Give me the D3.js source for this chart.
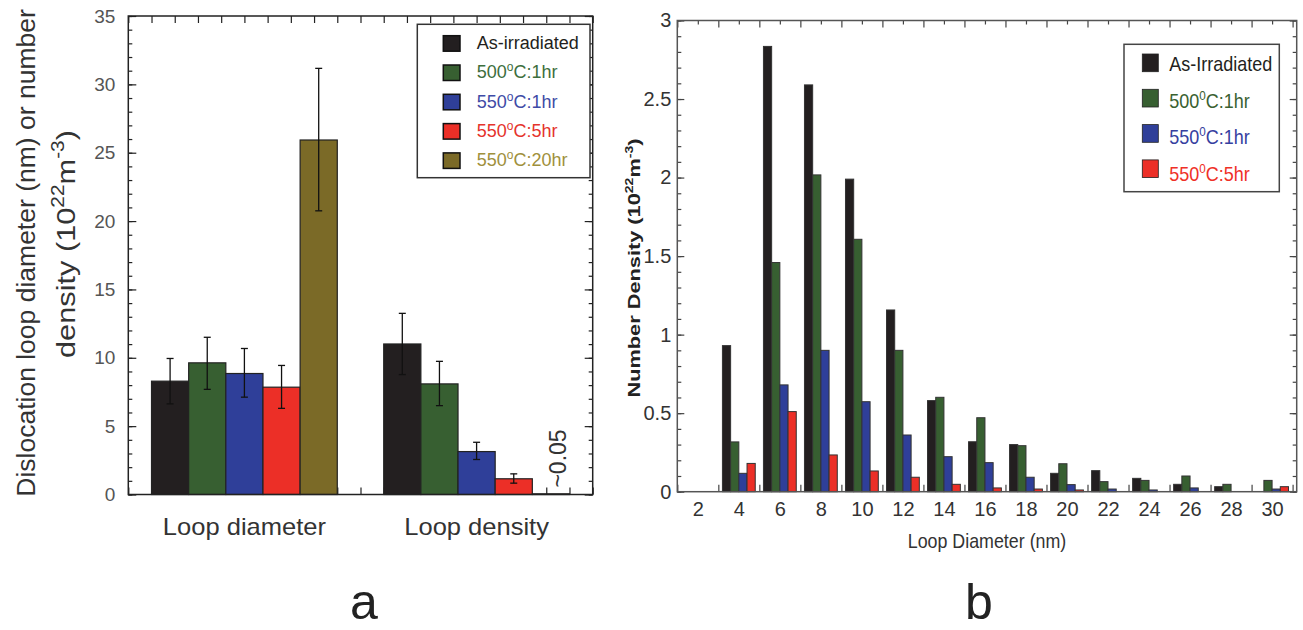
<!DOCTYPE html>
<html>
<head>
<meta charset="utf-8">
<script src="https://cdn.jsdelivr.net/npm/d3@7"></script>
<style>
  body { margin: 0; background: #fff; }
  svg { display: block; }
  text { font-family: "Liberation Sans", Arial, sans-serif; }
</style>
</head>
<body>
<svg id="chart" width="1303" height="630"></svg>
<script>
// ---------- data, panel a ----------
const groupsA = ["Loop diameter", "Loop density"];
const seriesA = ["As-irradiated", "500^{o}C:1hr", "550^{o}C:1hr", "550^{o}C:5hr", "550^{o}C:20hr"];
const diamVals = [8.29, 9.63, 8.85, 7.85, 25.93];
const diamLow  = [6.63, 7.69, 7.12, 6.30, 20.75];
const diamHigh = [9.95, 11.5, 10.68, 9.44, 31.17];
const densVals = [11.01, 8.09, 3.14, 1.15, 0.05];
const densLow  = [8.77, 6.50, 2.56, 0.83, null];
const densHigh = [13.25, 9.74, 3.82, 1.51, null];
const yTicksA = [0, 5, 10, 15, 20, 25, 30, 35];

// ---------- data, panel b ----------
const diameters = [2, 4, 6, 8, 10, 12, 14, 16, 18, 20, 22, 24, 26, 28, 30];
const seriesB = ["As-Irradiated", "500^{0}C:1hr", "550^{0}C:1hr", "550^{0}C:5hr"];
const asIrr  = [0, 0.93, 2.835, 2.59, 1.99, 1.157, 0.58, 0.318, 0.30, 0.117, 0.134, 0.085, 0.047, 0.032, 0];
const c500h1 = [0, 0.317, 1.459, 2.017, 1.607, 0.90, 0.601, 0.471, 0.293, 0.178, 0.064, 0.072, 0.10, 0.047, 0.072];
const c550h1 = [0, 0.117, 0.68, 0.90, 0.573, 0.361, 0.223, 0.185, 0.092, 0.045, 0.017, 0.011, 0.024, 0, 0.017];
const c550h5 = [0, 0.18, 0.51, 0.234, 0.132, 0.092, 0.047, 0.024, 0.017, 0.011, 0, 0, 0, 0, 0.032];
const yTicksB = [0, 0.5, 1, 1.5, 2, 2.5, 3];

const barColors = ["#231f20", "#375f31", "#2f3f99", "#ec2f27", "#7b6a27"];
const textColorsA = ["#231f20", "#3d6e3d", "#3e4ba6", "#e5332c", "#a0903c"];
const textColorsB = ["#231f20", "#3a6131", "#3640a0", "#ef3027"];

const svg = d3.select("#chart");

// text with ^{...} superscripts
function richText(sel, str, supSize, shift) {
  const parts = str.split(/(\^\{[^}]*\})/).filter(p => p !== "");
  let raised = false;
  parts.forEach(p => {
    const m = p.match(/^\^\{(.*)\}$/);
    if (m) {
      sel.append("tspan").attr("dy", -shift).attr("font-size", supSize).text(m[1]);
      raised = true;
    } else {
      sel.append("tspan").attr("dy", raised ? shift : 0).text(p);
      raised = false;
    }
  });
  return sel;
}

function styleAxis(g, color) {
  g.select(".domain").remove();
  g.selectAll(".tick line").attr("stroke", color).attr("stroke-width", 1.2);
  return g;
}

// ================= panel a =================
const xL = d3.scaleLinear().domain([0, 20]).range([128.3, 592.7]);
const yL = d3.scaleLinear().domain([0, 35]).range([494.5, 16]);
const groupCenterA = [5, 15];
const barW = 1.6;
const gA = svg.append("g");

// ticks
styleAxis(gA.append("g").attr("transform", `translate(${xL(0)},0)`)
  .call(d3.axisLeft(yL).tickValues(d3.range(0, 36, 1)).tickSize(-4).tickFormat("")), "#222");
const yAxA = gA.append("g").attr("transform", `translate(${xL(0)},0)`)
  .call(d3.axisLeft(yL).tickValues(yTicksA).tickSize(-8).tickPadding(13));
styleAxis(yAxA, "#222");
yAxA.selectAll("text").attr("font-size", 19).attr("fill", "#555")
  .attr("font-family", "Liberation Sans, Arial, sans-serif");
styleAxis(gA.append("g").attr("transform", `translate(${xL(20)},0)`)
  .call(d3.axisRight(yL).tickValues(d3.range(0, 36, 1)).tickSize(-4).tickFormat("")), "#222");
styleAxis(gA.append("g").attr("transform", `translate(${xL(20)},0)`)
  .call(d3.axisRight(yL).tickValues(yTicksA).tickSize(-8).tickFormat("")), "#222");
styleAxis(gA.append("g").attr("transform", `translate(0,${yL(35)})`)
  .call(d3.axisTop(xL).tickValues(d3.range(0, 21)).tickSize(-7).tickFormat("")), "#222");
styleAxis(gA.append("g").attr("transform", `translate(0,${yL(0)})`)
  .call(d3.axisBottom(xL).tickValues(d3.range(0, 21)).tickSize(-7).tickFormat("")), "#222");

// bars + error bars
[[diamVals, diamLow, diamHigh], [densVals, densLow, densHigh]].forEach((set, gi) => {
  const [vals, lo, hi] = set;
  vals.forEach((v, i) => {
    const x0 = groupCenterA[gi] - 2.5 * barW + i * barW;
    gA.append("rect")
      .attr("x", xL(x0)).attr("width", xL(x0 + barW) - xL(x0))
      .attr("y", yL(v)).attr("height", yL(0) - yL(v))
      .attr("fill", barColors[i]).attr("stroke", "#222").attr("stroke-width", 1.2);
    if (lo[i] !== null) {
      const cx = xL(x0 + barW / 2);
      gA.append("line").attr("x1", cx).attr("x2", cx).attr("y1", yL(lo[i])).attr("y2", yL(hi[i]))
        .attr("stroke", "#111").attr("stroke-width", 1.3);
      [lo[i], hi[i]].forEach(e => {
        gA.append("line").attr("x1", cx - 3.5).attr("x2", cx + 3.5).attr("y1", yL(e)).attr("y2", yL(e))
          .attr("stroke", "#111").attr("stroke-width", 1.3);
      });
    }
  });
});

// frame
gA.append("rect").attr("x", xL(0)).attr("y", yL(35))
  .attr("width", xL(20) - xL(0)).attr("height", yL(0) - yL(35))
  .attr("fill", "none").attr("stroke", "#222").attr("stroke-width", 1.5);

// "~0.05" note
const tinyX = xL(groupCenterA[1] + 1.5 * barW + barW / 2);
gA.append("text")
  .attr("transform", `translate(${tinyX + 15},${yL(0) - 36}) rotate(-90)`)
  .attr("text-anchor", "middle").attr("font-size", 23).attr("fill", "#333")
  .text("~0.05");

// category labels
groupsA.forEach((name, gi) => {
  gA.append("g").attr("transform", `translate(${xL(groupCenterA[gi])},535) scale(1.11,1)`)
    .append("text").attr("text-anchor", "middle").attr("font-size", 23).attr("fill", "#333")
    .text(name);
});

// y label (two lines)
gA.append("text")
  .attr("transform", "translate(35,253) rotate(-90)")
  .attr("text-anchor", "middle").attr("font-size", 26.5).attr("fill", "#333")
  .text("Dislocation loop diameter (nm) or number");
richText(gA.append("g").attr("transform", "translate(75,244) rotate(-90) scale(1.16,1)")
  .append("text").attr("text-anchor", "middle").attr("font-size", 26.5).attr("fill", "#333"),
  "density (10^{22}m^{-3})", 18, 11);

// legend
const legA = gA.append("g");
legA.append("rect").attr("x", 417.3).attr("y", 24.3).attr("width", 172.7).attr("height", 153.4)
  .attr("fill", "#fff").attr("stroke", "#333").attr("stroke-width", 1.5);
seriesA.forEach((s, i) => {
  legA.append("rect").attr("x", 443.3).attr("y", 35.7 + i * 29.3).attr("width", 16.7).attr("height", 15.5)
    .attr("fill", barColors[i]).attr("stroke", "#111").attr("stroke-width", 1.5);
  richText(legA.append("text").attr("x", 476.7).attr("y", 49 + i * 29.3)
    .attr("font-size", 18).attr("fill", textColorsA[i]), s, 12, 7);
});

// panel letter
svg.append("text").attr("x", 364).attr("y", 619).attr("text-anchor", "middle")
  .attr("font-size", 50).attr("fill", "#222")
  .text("a");

// ================= panel b =================
const xR = d3.scaleLinear().domain([1, 31.2]).range([677.3, 1296.7]);
const yR = d3.scaleLinear().domain([0, 3]).range([491.7, 20.5]);
const seriesValsB = [asIrr, c500h1, c550h1, c550h5];
const barWB = 0.4;
const gB = svg.append("g");

const odd = d3.range(1, 32, 2);
const even = d3.range(2, 31, 2);
styleAxis(gB.append("g").attr("transform", `translate(${xR.range()[0]},0)`)
  .call(d3.axisLeft(yR).tickValues(d3.range(0, 3.01, 0.1)).tickSize(-4).tickFormat("")), "#444");
const yAxB = gB.append("g").attr("transform", `translate(${xR.range()[0]},0)`)
  .call(d3.axisLeft(yR).tickValues(yTicksB).tickSize(-7).tickPadding(6).tickFormat(d3.format("~g")));
styleAxis(yAxB, "#444");
yAxB.selectAll("text").attr("font-size", 20).attr("fill", "#333")
  .attr("font-family", "Liberation Sans, Arial, sans-serif");
styleAxis(gB.append("g").attr("transform", `translate(${xR.range()[1]},0)`)
  .call(d3.axisRight(yR).tickValues(d3.range(0, 3.01, 0.1)).tickSize(-4).tickFormat("")), "#444");
styleAxis(gB.append("g").attr("transform", `translate(${xR.range()[1]},0)`)
  .call(d3.axisRight(yR).tickValues(yTicksB).tickSize(-7).tickFormat("")), "#444");
styleAxis(gB.append("g").attr("transform", `translate(0,${yR(3)})`)
  .call(d3.axisTop(xR).tickValues(odd).tickSize(-7).tickFormat("")), "#444");
styleAxis(gB.append("g").attr("transform", `translate(0,${yR(3)})`)
  .call(d3.axisTop(xR).tickValues(even).tickSize(-4).tickFormat("")), "#444");
styleAxis(gB.append("g").attr("transform", `translate(0,${yR(0)})`)
  .call(d3.axisBottom(xR).tickValues(odd).tickSize(-7).tickFormat("")), "#444");

// x tick labels
const xAxB = gB.append("g").attr("transform", `translate(0,${yR(0)})`)
  .call(d3.axisBottom(xR).tickValues(diameters).tickSize(0).tickPadding(10));
xAxB.select(".domain").remove();
xAxB.selectAll("text").attr("font-size", 20).attr("fill", "#333")
  .attr("font-family", "Liberation Sans, Arial, sans-serif");

// bars
seriesValsB.forEach((vals, si) => {
  gB.selectAll(null).data(diameters.map((d, k) => ({ d, v: vals[k] })).filter(o => o.v > 0))
    .join("rect")
    .attr("x", o => xR(o.d - 2 * barWB + si * barWB))
    .attr("width", xR(barWB) - xR(0))
    .attr("y", o => yR(o.v))
    .attr("height", o => yR(0) - yR(o.v))
    .attr("fill", barColors[si]).attr("stroke", "#333").attr("stroke-width", 1);
});

// frame
gB.append("rect").attr("x", xR.range()[0]).attr("y", yR(3))
  .attr("width", xR.range()[1] - xR.range()[0]).attr("height", yR(0) - yR(3))
  .attr("fill", "none").attr("stroke", "#555").attr("stroke-width", 1.5);

// axis titles
gB.append("g").attr("transform", `translate(${xR(16.1)},548) scale(0.85,1)`)
  .append("text").attr("text-anchor", "middle").attr("font-size", 21).attr("fill", "#333")
  .text("Loop Diameter (nm)");
richText(gB.append("g").attr("transform", "translate(640,268) rotate(-90) scale(1.28,1)")
  .append("text").attr("text-anchor", "middle").attr("font-size", 17).attr("font-weight", "bold")
  .attr("fill", "#222"), "Number Density (10^{22}m^{-3})", 11, 7);

// legend
const legB = gB.append("g");
legB.append("rect").attr("x", 1124).attr("y", 44.3).attr("width", 155.3).attr("height", 147.4)
  .attr("fill", "#fff").attr("stroke", "#444").attr("stroke-width", 1.5);
seriesB.forEach((s, i) => {
  legB.append("rect").attr("x", 1142.3).attr("y", 54 + i * 35.3).attr("width", 16).attr("height", 17.7)
    .attr("fill", barColors[i]).attr("stroke", "#222").attr("stroke-width", 0.8);
  richText(legB.append("g").attr("transform", `translate(1169.3,${71 + i * 36.6}) scale(0.9,1)`)
    .append("text").attr("font-size", 20).attr("fill", textColorsB[i]), s, 13, 8);
});

svg.append("text").attr("x", 979).attr("y", 619).attr("text-anchor", "middle")
  .attr("font-size", 50).attr("fill", "#222")
  .text("b");
</script>
</body>
</html>
